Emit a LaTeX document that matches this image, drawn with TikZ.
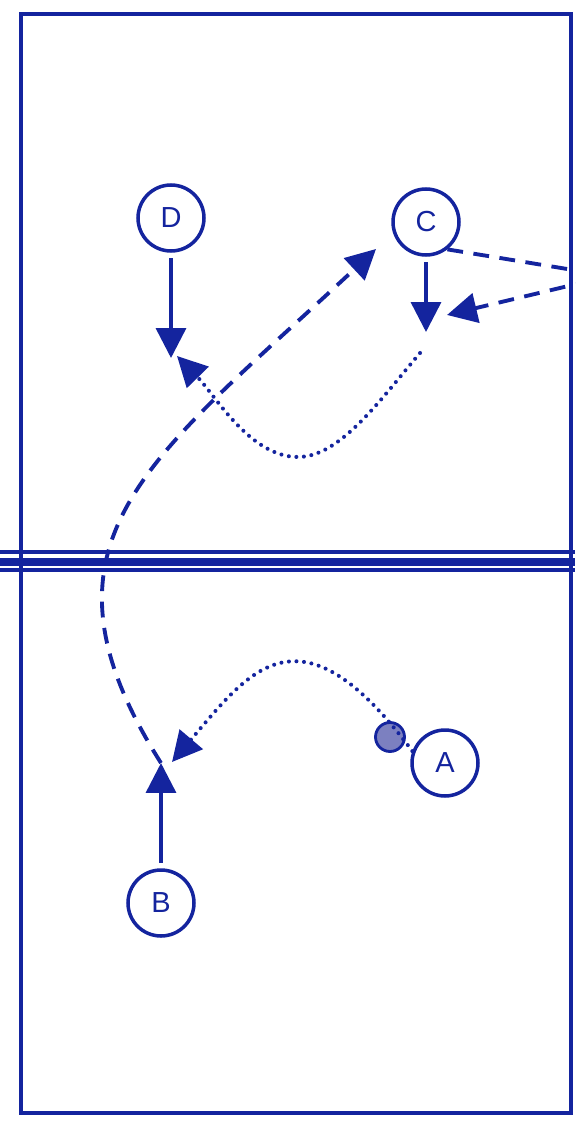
\documentclass[tikz,border=0pt]{standalone}
\usepackage{fontspec}
\setmainfont{Liberation Sans}
\usetikzlibrary{arrows.meta}
\definecolor{courtblue}{RGB}{20,36,158}
\definecolor{ballgray}{RGB}{124,128,192}

\begin{document}
\begin{tikzpicture}[x=0.02cm, y=-0.02cm,
        player/.style={circle, draw=courtblue, line width=2pt, minimum size=1.32cm, inner sep=0pt,
            text=courtblue, font=\fontsize{16.5}{19}\selectfont},
        run/.style={courtblue, line width=2pt, shorten <=3pt, -{Triangle[length=17pt,width=17pt]}},
        pass/.style={courtblue, line width=2.2pt, dash pattern=on 9pt off 6pt, -{Triangle[length=17pt,width=17pt]}},
        dribble/.style={courtblue, line width=2.3pt, line cap=round, dash pattern=on 0pt off 4.3pt,
            -{Triangle[length=17pt,width=17pt]}}]
        \useasboundingbox (0,0) rectangle (575,1125);
        \clip (0,0) rectangle (575,1125);
        \draw[courtblue, line width=2pt] (21,14) rectangle (571,1113);
        \draw[courtblue, line width=2pt] (0,552) -- (575,552);
        \draw[courtblue, line width=4.4pt] (0,562) -- (575,562);
        \draw[courtblue, line width=2pt] (0,570) -- (575,570);

        \node[player] (D) at (171,218) {D};
        \node[player] (C) at (426,222) {C};
        \node[player] (A) at (445,763) {A};
        \node[player] (B) at (161,903) {B};
        \node[circle, draw=courtblue, line width=1.6pt, fill=ballgray, minimum size=0.58cm, inner sep=0pt] (ball) at (390,737) {};

        \coordinate (dTo) at (171,358);
        \coordinate (cTo) at (426,332);
        \coordinate (bTo) at (161,763);
        \coordinate (passEnd) at (376,249);
        \coordinate (cTurn) at (610,276);
        \coordinate (cBack) at (447,315);
        \coordinate (cRun) at (420,353);
        \coordinate (cLow) at (298,457);
        \coordinate (cRunEnd) at (177,356);
        \coordinate (ballEnd) at (172,762);

        \draw[run] (D) -- (dTo);
        \draw[run] (C) -- (cTo);
        \draw[run] (B) -- (bTo);
        \draw[pass] (bTo) .. controls (20,540) and (150,460) .. (passEnd);
        \draw[pass] (C.-52) -- (cTurn) -- (cBack);
        \draw[dribble] (cRun) .. controls (380,400) and (340,457) .. (cLow) .. controls (250,457) and (215,395) .. (cRunEnd);
        \draw[dribble] (A.160) .. controls (300,600) and (250,670) .. (ballEnd);
    \end{tikzpicture}
\end{document}
